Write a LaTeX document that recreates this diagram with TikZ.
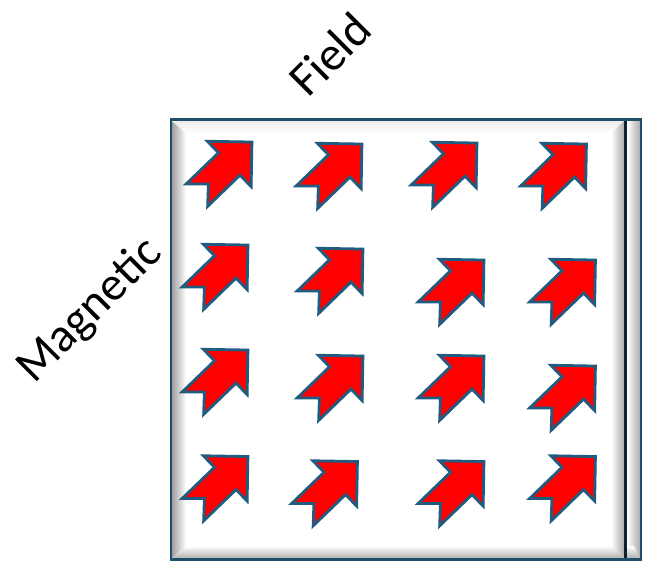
\documentclass[tikz,border=0pt]{standalone}
\usepackage{fontspec}
\setmainfont{Carlito}
\definecolor{arrowblue}{HTML}{1F5C80}
\definecolor{frameblue}{HTML}{1F4E68}
\definecolor{darkline}{HTML}{10212E}
\tikzset{
  magarrow/.style={fill=red, draw=arrowblue, line width=2.8pt, line join=miter},
  lbl/.style={font=\fontsize{48}{56}\selectfont, rotate=45, inner sep=0pt},
  pics/magarr/.style={code={
    \draw[magarrow] (-1.5,0) -- (-33,31.5) -- (-33,15.5) -- (-78,15.5) -- (-62,0)
      -- (-78,-15.5) -- (-33,-15.5) -- (-33,-31.5) -- cycle;}}
}
\begin{document}
\begin{tikzpicture}[x=1pt,y=-1pt]
\useasboundingbox (0,0) rectangle (650,560);
% frame
\fill[white] (171,119.5) rectangle (641,559.5);
\shade[left color=gray!75, right color=white] (172,121) -- (186,133) -- (186,546) -- (172,558) -- cycle;
\shade[top color=gray!15, bottom color=white] (172,121) -- (624,121) -- (611,133) -- (186,133) -- cycle;
\shade[left color=white, right color=gray!65] (611,133) -- (624,121) -- (624,558) -- (611,546) -- cycle;
\shade[top color=white, bottom color=gray!60] (186,546) -- (611,546) -- (624,558) -- (172,558) -- cycle;
\shade[left color=white, right color=gray!65] (627,121) rectangle (640,558);
\shade[top color=white, bottom color=gray!60] (627,546) -- (634,546) -- (640,558) -- (627,558) -- cycle;
\draw[darkline, line width=3pt] (625,120) -- (625,560);
\draw[frameblue, line width=2.8pt] (171,119.5) rectangle (641,559.5);
% arrows
\foreach \x/\y in {253/141, 363/143, 478/142, 587.5/143,
                   249/244, 364/248, 485/259, 596.5/259,
                   249/349, 364/355, 485/355, 596.5/365,
                   249/455.5, 358.5/460.5, 485/460.5, 596.5/455.5}
  \pic[rotate=44] at (\x,\y) {magarr};
% labels
\node[lbl] (field) at (330,54) {Field};
\node[lbl] (magnetic) at (90,311) {Magnetic};
\end{tikzpicture}
\end{document}
